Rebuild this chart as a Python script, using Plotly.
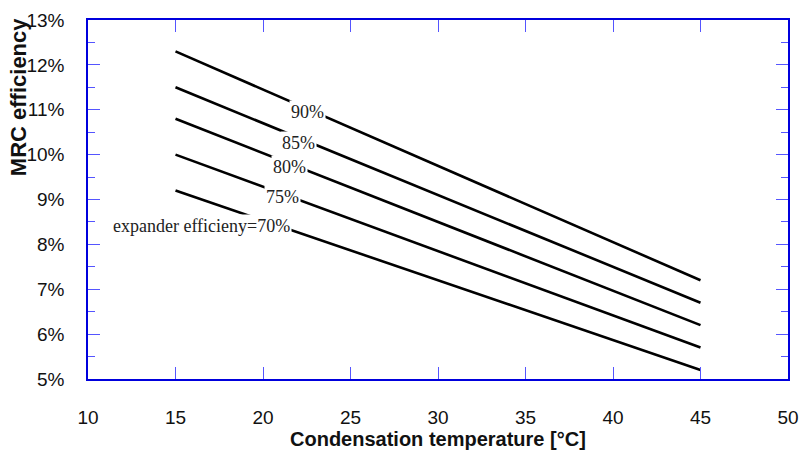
import plotly.graph_objects as go

# Data
temperature = [15, 45]
series_names = ["90%", "85%", "80%", "75%", "expander efficieny=70%"]
eff_90 = [12.3, 7.2]
eff_85 = [11.5, 6.7]
eff_80 = [10.8, 6.2]
eff_75 = [10.0, 5.7]
eff_70 = [9.2, 5.2]
series_values = [eff_90, eff_85, eff_80, eff_75, eff_70]

x_ticks = [10, 15, 20, 25, 30, 35, 40, 45, 50]
y_ticks = [5, 6, 7, 8, 9, 10, 11, 12, 13]
y_tick_labels = ["5%", "6%", "7%", "8%", "9%", "10%", "11%", "12%", "13%"]

# label anchor positions (data coords)
label_x = [22.56, 22.0, 21.49, 21.1, 16.48]
label_y = [10.94, 10.27, 9.72, 9.05, 8.40]

fig = go.Figure()
for name, vals in zip(series_names, series_values):
    fig.add_trace(go.Scatter(x=temperature, y=vals, mode="lines", name=name,
                             line=dict(color="black", width=2.6), showlegend=False))

for txt, lx, ly in zip(series_names, label_x, label_y):
    fig.add_annotation(x=lx, y=ly, text=txt, showarrow=False, xanchor="center", yanchor="middle",
                       font=dict(family="Liberation Serif, Times New Roman, serif", size=18, color="#222"),
                       bgcolor="white", borderpad=1)

axis_col = "#0000dd"
tick_font = dict(family="Liberation Sans, Arial, sans-serif", size=19, color="#111")
title_font = dict(family="Liberation Sans, Arial, sans-serif", size=20, color="#111")

fig.update_xaxes(range=[10, 50], tickvals=x_ticks, ticks="inside", ticklen=12, tickwidth=1,
                 tickcolor="#5555ff", showline=True, linecolor=axis_col, linewidth=1.5, mirror="ticks",
                 showgrid=False, zeroline=False, tickfont=tick_font, ticklabelstandoff=20)
fig.update_yaxes(range=[5, 13], tickvals=y_ticks, ticktext=y_tick_labels, ticks="inside", ticklen=12, tickwidth=1,
                 tickcolor="#5555ff", showline=True, linecolor=axis_col, linewidth=1.5, mirror="ticks",
                 showgrid=False, zeroline=False, tickfont=tick_font, ticklabelstandoff=18,
                 minor=dict(dtick=0.5, ticklen=7, ticks="inside", tickcolor="#5555ff", tickwidth=1))

fig.add_annotation(xref="paper", yref="paper", x=0.5, y=-0.168, text="<b>Condensation temperature [°C]</b>",
                   showarrow=False, xanchor="center", yanchor="middle", font=title_font)
fig.add_annotation(xref="paper", yref="paper", x=-0.1, y=0.785, text="<b>MRC efficiency</b>", textangle=-90,
                   showarrow=False, xanchor="center", yanchor="middle",
                   font=dict(family="Liberation Sans, Arial, sans-serif", size=22, color="#111"))

fig.update_layout(width=809, height=457, margin=dict(l=88, r=11, t=10, b=78),
                  plot_bgcolor="white", paper_bgcolor="white")

fig.write_html("out.html")
